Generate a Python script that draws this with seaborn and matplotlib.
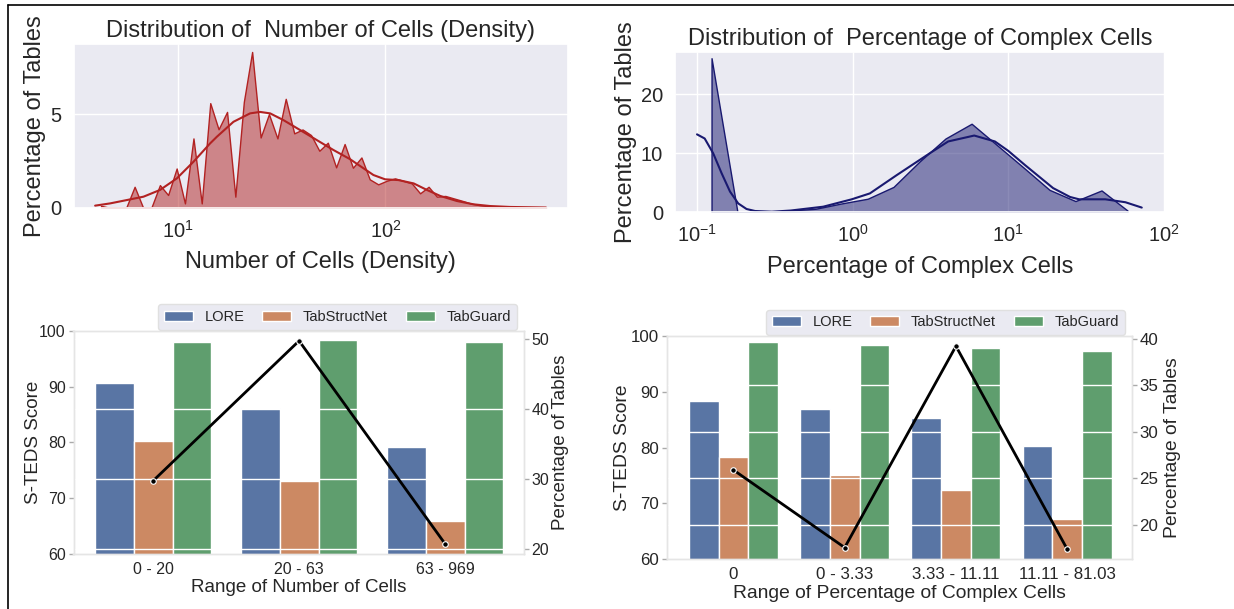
import numpy as np
import pandas as pd
import matplotlib
matplotlib.use('Agg')
import matplotlib.pyplot as plt
import seaborn as sns
from matplotlib.colors import to_rgba
from matplotlib.lines import Line2D
from matplotlib.ticker import MultipleLocator

# ==========================================
# DATA
# ==========================================
# top-left: histogram (poly) of number of cells, percent of tables per log bin
cells_hist_x = [4.25, 4.67, 5.12, 5.62, 6.17, 6.78, 7.43, 8.17, 8.95, 9.84,
                10.79, 11.86, 13.00, 14.29, 15.67, 17.22, 18.88, 20.75, 22.75, 25.00,
                27.42, 30.13, 33.04, 36.31, 39.81, 43.75, 47.97, 52.72, 57.81, 63.53,
                69.66, 76.56, 83.95, 92.26, 101.2, 111.2, 121.9, 134.0, 146.9, 161.4,
                177.0, 194.5, 213.3, 234.4, 257.0, 282.5, 309.7, 340.4, 373.3, 410.2,
                449.8, 494.3, 542.0, 595.7]
cells_hist_y = [0.10, 0, 0, 0, 1.12, 0, 0, 1.21, 0.68, 2.10,
                0.23, 3.71, 0.23, 5.60, 4.20, 5.13, 0.59, 5.67, 8.34, 3.76,
                5.01, 3.71, 5.83, 3.98, 4.19, 3.89, 3.05, 3.48, 2.16, 3.41,
                2.14, 2.69, 1.52, 1.25, 1.44, 1.57, 1.44, 1.30, 0.77, 1.12,
                0.59, 0.63, 0.50, 0.37, 0.23, 0.14, 0.09, 0.06, 0.04, 0.03,
                0.02, 0.01, 0.01, 0.01]
cells_kde_x = [3.98, 4.70, 5.66, 6.81, 8.18, 9.86, 11.86, 14.26, 15.38, 18.49,
               22.23, 24.83, 27.80, 32.21, 38.73, 46.67, 56.10, 67.45, 72.78, 87.50,
               99.54, 115.3, 136.8, 158.5, 183.7, 220.8, 266.1, 319.2, 398.1, 594.3]
cells_kde_y = [0.11, 0.23, 0.41, 0.59, 0.95, 1.57, 2.46, 3.44, 3.80, 4.60,
               5.05, 5.13, 5.05, 4.69, 4.16, 3.62, 3.09, 2.60, 2.35, 1.75,
               1.52, 1.48, 1.30, 0.95, 0.63, 0.36, 0.18, 0.09, 0.04, 0.01]

# top-right: histogram (poly) of percentage of complex cells
cplx_hist_x = [0.124, 0.182, 0.268, 0.394, 0.578, 0.849, 1.25, 1.83, 2.69,
               3.95, 5.81, 8.53, 12.5, 18.4, 27.0, 39.7, 58.3]
cplx_hist_y = [26.1, 0, 0, 0.3, 0.6, 1.5, 2.3, 4.3, 8.6,
               12.5, 15.0, 11.3, 7.6, 3.8, 1.9, 3.7, 0.3]
cplx_kde_x = [0.100, 0.112, 0.127, 0.144, 0.163, 0.184, 0.208, 0.236, 0.302, 0.40,
              0.647, 0.986, 1.29, 1.92, 3.13, 4.11, 6.04, 8.20, 10.0, 12.8,
              19.4, 24.9, 28.5, 42.0, 56.6, 72.0]
cplx_kde_y = [13.2, 12.5, 10.0, 6.6, 3.5, 1.5, 0.56, 0.22, 0.1, 0.3,
              0.95, 2.2, 3.2, 6.3, 10.0, 12.0, 13.0, 12.0, 10.4, 8.0,
              4.1, 2.6, 2.2, 2.2, 1.7, 0.8]

# bottom-left: S-TEDS by range of number of cells
MODELS = ['LORE', 'TabStructNet', 'TabGuard']
cell_ranges = ['0 - 20', '20 - 63', '63 - 969']
cell_lore = [90.6, 86.1, 79.1]
cell_tsn = [80.3, 73.0, 65.85]
cell_tabguard = [97.95, 98.3, 97.9]
cell_pct = [29.7, 49.7, 20.7]

# bottom-right: S-TEDS by range of percentage of complex cells
cplx_ranges = ['0', '0 - 3.33', '3.33 - 11.11', '11.11 - 81.03']
cplx_lore = [88.3, 87.0, 85.25, 80.3]
cplx_tsn = [78.4, 75.1, 72.4, 67.3]
cplx_tabguard = [99.0, 98.3, 97.85, 97.25]
cplx_pct = [25.9, 17.57, 39.2, 17.4]

# ==========================================
# STYLE
# ==========================================
sns.set_theme(style='darkgrid')
plt.rcParams['font.family'] = ['Liberation Sans', 'DejaVu Sans']

W, H = 1234, 609
fig = plt.figure(figsize=(W / 100, H / 100), dpi=100)


def px_rect(x0, y0, x1, y1):
    return [x0 / W, 1 - y1 / H, (x1 - x0) / W, (y1 - y0) / H]


def dist_panel(rect, hx, hy, kx, ky, color, title, xlabel, xlim, ylim, yticks):
    ax = fig.add_axes(rect)
    ax.set_xscale('log')
    ax.fill_between(hx, 0, hy, facecolor=to_rgba(color, 0.5), edgecolor=color, linewidth=1)
    sns.lineplot(x=kx, y=ky, color=color, linewidth=1.5, ax=ax)
    ax.set_xlim(xlim)
    ax.set_ylim(ylim)
    ax.set_yticks(yticks)
    ax.set_title(title, fontsize=17, pad=5)
    ax.tick_params(labelsize=14.5, pad=2.5)
    ax.set_xlabel(xlabel, fontsize=17, labelpad=7)
    ax.set_ylabel('Percentage of Tables', fontsize=17, labelpad=3)
    ax.grid(False, which='minor')
    return ax


def score_panel(rect, cats, lore, tsn, tg, pct, xlabel, xlim, pct_step,
                tick_fs, label_fs, lpad_left, lpad_right):
    n = len(cats)
    df = pd.DataFrame({
        'range': cats * 3,
        'model': [m for m in MODELS for _ in range(n)],
        'score': lore + tsn + tg,
    })
    ax = fig.add_axes(rect)
    ax.set_facecolor('white')
    sns.barplot(data=df, x='range', y='score', hue='model', palette='deep',
                edgecolor='white', linewidth=1, ax=ax)
    ax.set_ylim(60, 100)
    ax.grid(False)
    ax.set_xlabel(xlabel, fontsize=label_fs, labelpad=2)
    ax.set_ylabel('S-TEDS Score', fontsize=label_fs, labelpad=lpad_left)
    ax.tick_params(labelsize=tick_fs, length=3.5, width=1, color='#aaaaaa', pad=2)
    handles, labels = ax.get_legend_handles_labels()
    ax.legend(handles, labels, ncol=3, loc='lower right', bbox_to_anchor=(0.985, 1.003),
              borderaxespad=0, fontsize=10.5, facecolor='#eaeaf2', edgecolor='#e0e0e0',
              framealpha=1, columnspacing=1.2)

    ax2 = ax.twinx()
    sns.lineplot(x=np.arange(n), y=pct, color='black', linewidth=2, marker='o',
                 markersize=4, markeredgecolor='white', markeredgewidth=0.8, ax=ax2)
    ax2.yaxis.set_major_locator(MultipleLocator(pct_step))
    ax2.grid(True, axis='y', color='white', linewidth=1)
    ax2.set_ylabel('Percentage of Tables', fontsize=label_fs, labelpad=lpad_right)
    ax2.tick_params(axis='y', labelsize=tick_fs, length=3.5, width=1, color='#aaaaaa', pad=2)
    for a in (ax, ax2):
        for sp in a.spines.values():
            sp.set_color('#e5e5e5')
            sp.set_linewidth(1)
    ax.set_xlim(xlim)
    return ax, ax2


# ==========================================
# PANELS
# ==========================================
dist_panel(px_rect(73.5, 44.3, 568, 207.7), cells_hist_x, cells_hist_y,
           cells_kde_x, cells_kde_y, 'firebrick',
           'Distribution of  Number of Cells (Density)', 'Number of Cells (Density)',
           (3.13, 759), (0, 8.75), [0, 5])

dist_panel(px_rect(674.8, 51.7, 1164.9, 212.3), cplx_hist_x, cplx_hist_y,
           cplx_kde_x, cplx_kde_y, 'midnightblue',
           'Distribution of  Percentage of Complex Cells', 'Percentage of Complex Cells',
           (0.072, 101.4), (0, 27.2), [0, 10, 20])

score_panel(px_rect(73.5, 330.7, 523.5, 554), cell_ranges, cell_lore, cell_tsn,
            cell_tabguard, cell_pct, 'Range of Number of Cells', (-0.545, 2.537), 10,
            11.5, 13.5, -2, 2)

score_panel(px_rect(666.7, 336, 1131.7, 559.3), cplx_ranges, cplx_lore, cplx_tsn,
            cplx_tabguard, cplx_pct, 'Range of Percentage of Complex Cells', (-0.6, 3.58), 5,
            12.2, 13.9, 0, 4)

# thin frame lines of the composite picture
fig.add_artist(Line2D([8.4 / W, 8.4 / W], [0, 1 - 5 / H], color='black', linewidth=1.2))
fig.add_artist(Line2D([8.4 / W, 1], [1 - 5 / H, 1 - 5 / H], color='black', linewidth=1.2))

fig.savefig('out.png', dpi=100)
